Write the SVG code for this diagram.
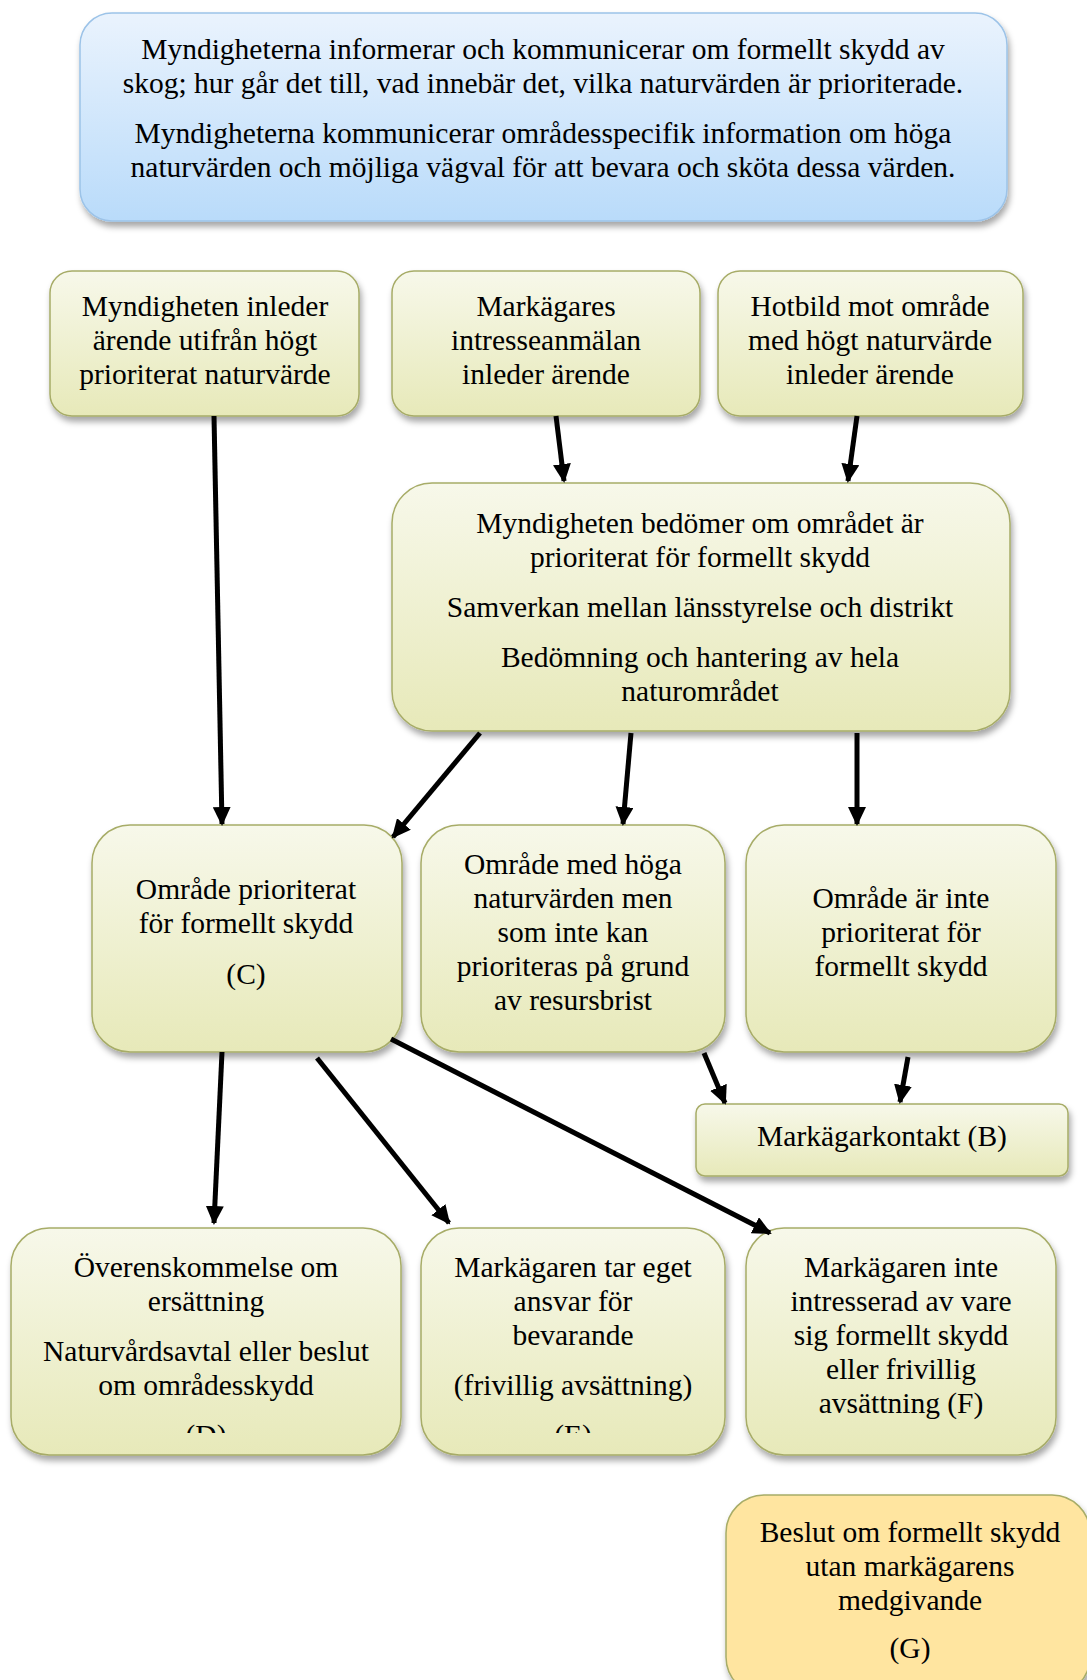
<svg xmlns="http://www.w3.org/2000/svg" width="1087" height="1680" viewBox="0 0 1087 1680">
<defs>
<linearGradient id="gGreen" x1="0" y1="0" x2="0" y2="1">
<stop offset="0" stop-color="#F7F8EA"/>
<stop offset="1" stop-color="#E7E9B9"/>
</linearGradient>
<linearGradient id="gBlue" x1="0" y1="0" x2="0" y2="1">
<stop offset="0" stop-color="#EAF3FD"/>
<stop offset="1" stop-color="#B9DBFA"/>
</linearGradient>
<filter id="sh" x="-10%" y="-10%" width="120%" height="130%">
<feDropShadow dx="2" dy="5" stdDeviation="3" flood-color="#000" flood-opacity="0.35"/>
</filter>
<marker id="ah" markerUnits="userSpaceOnUse" markerWidth="20" markerHeight="18" refX="17" refY="9" orient="auto">
<path d="M0,0 L19,9 L0,18 Z" fill="#000"/>
</marker>
<clipPath id="clipDE"><rect x="0" y="0" width="1087" height="1433"/></clipPath>
</defs>
<style>
.g{fill:url(#gGreen);stroke:#A7AC67;stroke-width:1.5;filter:url(#sh)}
.b{fill:url(#gBlue);stroke:#9CC3E8;stroke-width:1.5;filter:url(#sh)}
.o{fill:#FFE5A0;stroke:#A7AC67;stroke-width:1.5;filter:url(#sh)}
text{font-family:"Liberation Serif","Times New Roman",serif;font-size:29.5px;fill:#000;text-anchor:middle}
.c line{stroke:#000;stroke-width:5;marker-end:url(#ah)}
</style>

<g id="n-top">
<rect class="b" x="80" y="13" width="927" height="208" rx="32"/>
<text x="543" y="59">Myndigheterna informerar och kommunicerar om formellt skydd av</text>
<text x="543" y="93">skog; hur går det till, vad innebär det, vilka naturvärden är prioriterade.</text>
<text x="543" y="143">Myndigheterna kommunicerar områdesspecifik information om höga</text>
<text x="543" y="177">naturvärden och möjliga vägval för att bevara och sköta dessa värden.</text>
</g>

<g id="n-a">
<rect class="g" x="50" y="271" width="309" height="145" rx="22"/>
<text x="205" y="316">Myndigheten inleder</text>
<text x="205" y="350">ärende utifrån högt</text>
<text x="205" y="384">prioriterat naturvärde</text>
</g>

<g id="n-b">
<rect class="g" x="392" y="271" width="308" height="145" rx="22"/>
<text x="546" y="316">Markägares</text>
<text x="546" y="350">intresseanmälan</text>
<text x="546" y="384">inleder ärende</text>
</g>

<g id="n-hot">
<rect class="g" x="718" y="271" width="305" height="145" rx="22"/>
<text x="870" y="316">Hotbild mot område</text>
<text x="870" y="350">med högt naturvärde</text>
<text x="870" y="384">inleder ärende</text>
</g>

<g id="n-mid">
<rect class="g" x="392" y="483" width="618" height="248" rx="40"/>
<text x="700" y="533">Myndigheten bedömer om området är</text>
<text x="700" y="567">prioriterat för formellt skydd</text>
<text x="700" y="617">Samverkan mellan länsstyrelse och distrikt</text>
<text x="700" y="667">Bedömning och hantering av hela</text>
<text x="700" y="701">naturområdet</text>
</g>

<g id="n-c">
<rect class="g" x="92" y="825" width="310" height="227" rx="38"/>
<text x="246" y="899">Område prioriterat</text>
<text x="246" y="933">för formellt skydd</text>
<text x="246" y="984">(C)</text>
</g>

<g id="n-res">
<rect class="g" x="421" y="825" width="304" height="227" rx="38"/>
<text x="573" y="874">Område med höga</text>
<text x="573" y="908">naturvärden men</text>
<text x="573" y="942">som inte kan</text>
<text x="573" y="976">prioriteras på grund</text>
<text x="573" y="1010">av resursbrist</text>
</g>

<g id="n-notprio">
<rect class="g" x="746" y="825" width="310" height="227" rx="38"/>
<text x="901" y="908">Område är inte</text>
<text x="901" y="942">prioriterat för</text>
<text x="901" y="976">formellt skydd</text>
</g>

<g id="n-kontakt">
<rect class="g" x="696" y="1104" width="372" height="72" rx="9"/>
<text x="882" y="1146">Markägarkontakt (B)</text>
</g>

<g id="n-d">
<rect class="g" x="11" y="1228" width="390" height="227" rx="38"/>
<text x="206" y="1277">Överenskommelse om</text>
<text x="206" y="1311">ersättning</text>
<text x="206" y="1361">Naturvårdsavtal eller beslut</text>
<text x="206" y="1395">om områdesskydd</text>
<text x="206" y="1445" clip-path="url(#clipDE)">(D)</text>
</g>

<g id="n-e">
<rect class="g" x="421" y="1228" width="304" height="227" rx="38"/>
<text x="573" y="1277">Markägaren tar eget</text>
<text x="573" y="1311">ansvar för</text>
<text x="573" y="1345">bevarande</text>
<text x="573" y="1395">(frivillig avsättning)</text>
<text x="573" y="1445" clip-path="url(#clipDE)">(E)</text>
</g>

<g id="n-f">
<rect class="g" x="746" y="1228" width="310" height="227" rx="38"/>
<text x="901" y="1277">Markägaren inte</text>
<text x="901" y="1311">intresserad av vare</text>
<text x="901" y="1345">sig formellt skydd</text>
<text x="901" y="1379">eller frivillig</text>
<text x="901" y="1413">avsättning (F)</text>
</g>

<g id="n-g">
<rect class="o" x="726" y="1495" width="364" height="200" rx="38"/>
<text x="910" y="1542">Beslut om formellt skydd</text>
<text x="910" y="1576">utan markägarens</text>
<text x="910" y="1610">medgivande</text>
<text x="910" y="1658">(G)</text>
</g>

<g id="connectors" class="c">
<line x1="214" y1="416" x2="222" y2="824"/>
<line x1="556" y1="416" x2="564" y2="481"/>
<line x1="857" y1="416" x2="848" y2="481"/>
<line x1="480" y1="733" x2="393" y2="837"/>
<line x1="631" y1="733" x2="623" y2="824"/>
<line x1="857" y1="733" x2="857" y2="824"/>
<line x1="704" y1="1053" x2="725" y2="1103"/>
<line x1="908" y1="1057" x2="900" y2="1102"/>
<line x1="222" y1="1052" x2="214" y2="1223"/>
<line x1="317" y1="1058" x2="449" y2="1223"/>
<line x1="391" y1="1039" x2="770" y2="1233"/>
</g>
</svg>
